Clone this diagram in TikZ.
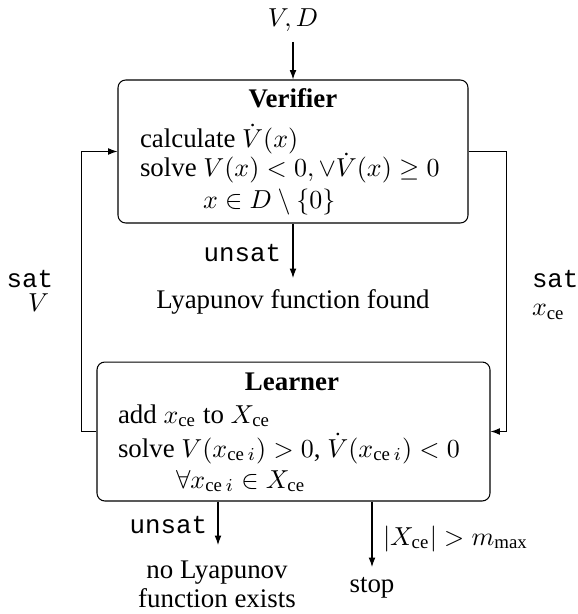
\documentclass[tikz,border=0pt]{standalone}
\usepackage{amsmath}
\usepackage[no-math]{fontspec}
\setmainfont{Liberation Serif}
\setmonofont[Scale=0.96]{Liberation Mono}
\usetikzlibrary{arrows.meta}
\begin{document}
\begin{tikzpicture}[x=0.385pt,y=-0.385pt,
  box/.style={draw,rounded corners=3pt,inner sep=0pt},
  txt/.style={inner sep=0pt,outer sep=0pt},
  arr/.style={-{Latex[length=3.6pt,width=2.6pt]}},
  font=\fontsize{10.35}{12.4}\selectfont]
\useasboundingbox (0,0) rectangle (577,614);
% boxes
\node[box,minimum width=134.75pt,minimum height=55.06pt] (ver) at (293,151.5) {};
\node[box,minimum width=151.3pt,minimum height=53.5pt] (lrn) at (293.5,431.5) {};
% verifier text
\node[txt,anchor=base] (vt) at (293,108) {\textbf{Verifier}};
\node[txt,anchor=base west] (v1) at (140,148) {calculate $\dot V(x)$};
\node[txt,anchor=base west] (v2) at (140,177) {solve $V(x) < 0, \vee \dot V(x) \geq 0$};
\node[txt,anchor=base west] (v3) at (203,209) {$x \in D \setminus \{0\}$};
% learner text
\node[txt,anchor=base] (lt) at (292,390) {\textbf{Learner}};
\node[txt,anchor=base west] (l1) at (118,423) {add $x_\text{ce}$ to $X_\text{ce}$};
\node[txt,anchor=base west] (l2) at (118,457) {solve $V(x_{\text{ce}\,i}) > 0$, $\dot V(x_{\text{ce}\,i}) < 0$};
\node[txt,anchor=base west] (l3) at (176,488) {$\forall x_{\text{ce}\,i} \in X_\text{ce}$};
% input
\node[txt,anchor=base] (vd) at (293,27) {$V, D$};
\coordinate (vdout) at (293,42);
\draw[arr] (vdout) -- (ver.north);
% found
\node[txt,anchor=base] (found) at (293,308) {Lyapunov function found};
\coordinate (foundtip) at (293,278);
\draw[arr] (ver.south) -- (foundtip);
\node[txt,anchor=east] (unsat1) at (281,253) {\texttt{unsat}};
% loops
\draw[arr] (ver.east) -- ++(38,0) |- (lrn.east);
\draw[arr] (lrn.west) -- ++(-15,0) |- (ver.west);
\node[txt,anchor=east] (satL) at (53,279) {\texttt{sat}};
\node[txt,anchor=east] (VL) at (49,303) {$V$};
\node[txt,anchor=west] (satR) at (532,279) {\texttt{sat}};
\node[txt,anchor=west] (xR) at (532,312) {$x_\text{ce}$};
% bottom
\coordinate (notip) at (218,545);
\draw[arr] (lrn.south -| notip) -- (notip);
\node[txt,anchor=east] (unsat2) at (207,525) {\texttt{unsat}};
\node[txt,anchor=base] (no1) at (217,578) {no Lyapunov};
\node[txt,anchor=base] (no2) at (217,607) {function exists};
\coordinate (stoptip) at (372,567);
\draw[arr] (lrn.south -| stoptip) -- (stoptip);
\node[txt,anchor=base] (stop) at (372,592) {stop};
\node[txt,anchor=base west] (cond) at (383,545) {$|X_\text{ce}| > m_\text{max}$};
\end{tikzpicture}
\end{document}
